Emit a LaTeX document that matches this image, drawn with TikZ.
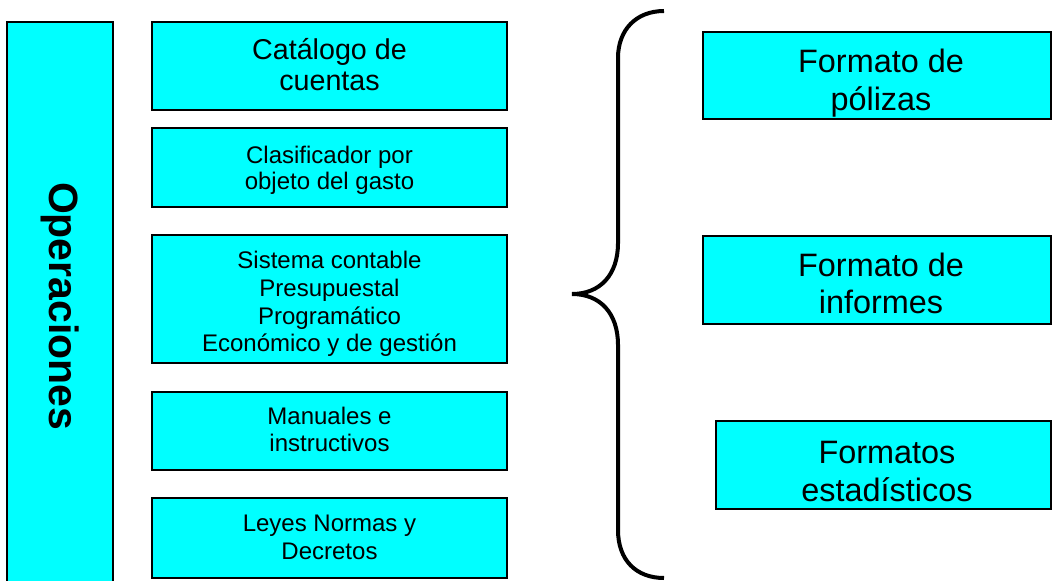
\documentclass[tikz,border=0pt]{standalone}
\usepackage{fontspec}
\setmainfont{Liberation Sans}
\usepackage{xcolor}
\usepackage{tikz}
\definecolor{boxcyan}{HTML}{00FFFF}

\begin{document}
\begin{tikzpicture}[x=0.75pt,y=-0.75pt,
  caja/.style={draw=black,line width=1.1pt,fill=boxcyan},
  texto/.style={align=center,inner sep=0pt},
  chico/.style={texto,font=\fontsize{18}{20.7}\selectfont},
  grande/.style={texto,font=\fontsize{21.5}{23.3}\selectfont},
  formato/.style={texto,font=\fontsize{24.3}{28}\selectfont}]
\useasboundingbox (0,0) rectangle (1052,581);
% columna izquierda
\draw[caja] (7,22) rectangle (113,590);
\node[texto,rotate=-90,font=\fontsize{30.7}{34}\selectfont\bfseries] (ops) at (60,306) {Operaciones};
% columna central
\draw[caja] (152,22) rectangle (507,110);
\node[grande] (cat) at (329.5,64.5) {Catálogo de\\cuentas};
\draw[caja] (152,128) rectangle (507,207);
\node[chico,font=\fontsize{18}{19.5}\selectfont] (clas) at (329.5,170) {Clasificador por\\objeto del gasto};
\draw[caja] (152,235) rectangle (507,363);
\node[chico] (sis) at (329.5,304) {Sistema contable\\Presupuestal\\Programático\\Económico y de gestión};
\draw[caja] (152,392) rectangle (507,470);
\node[chico] (man) at (329.5,429.5) {Manuales e\\instructivos};
\draw[caja] (152,498) rectangle (507,578);
\node[chico] (leyes) at (329.5,537.5) {Leyes Normas y\\Decretos};
% llave
\draw[line width=3pt] (664,11) .. controls (636,11) and (618,30) .. (618,58)
  -- (618,243) .. controls (618,275) and (600,294) .. (572,294)
  .. controls (600,294) and (618,313) .. (618,345)
  -- (618,530) .. controls (618,560) and (636,578) .. (664,578);
% columna derecha
\draw[caja] (703,32) rectangle (1051,119);
\node[formato] (pol) at (881,83) {Formato de\\pólizas};
\draw[caja] (703,236) rectangle (1051,324);
\node[formato] (inf) at (881,283.5) {Formato de\\informes};
\draw[caja] (716,421) rectangle (1051,509);
\node[formato] (est) at (887,471.5) {Formatos\\estadísticos};
\end{tikzpicture}
\end{document}
